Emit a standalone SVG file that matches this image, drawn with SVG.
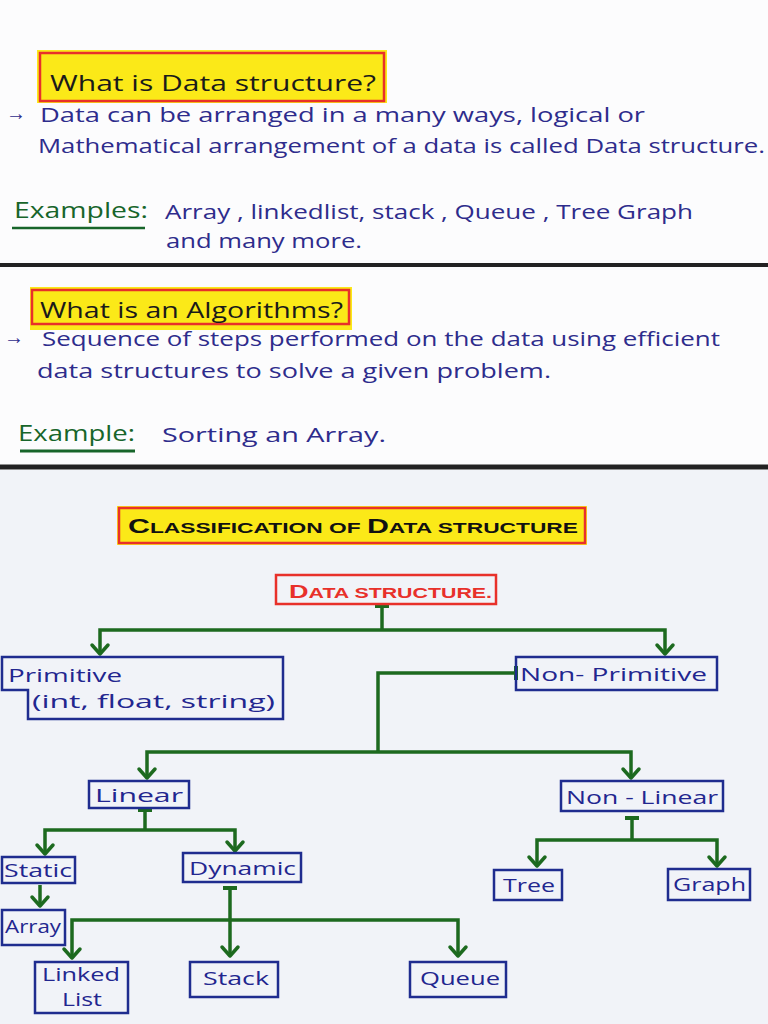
<svg xmlns="http://www.w3.org/2000/svg" width="768" height="1024" viewBox="0 0 768 1024">
<defs>
<style>
.ink{font-family:"Open Sans","Liberation Sans",sans-serif;fill:#2e2c8c;font-size:20px}
.head{font-family:"Open Sans","Liberation Sans",sans-serif;fill:#1a1a1a;font-size:22px}
.grn{font-family:"Open Sans","Liberation Sans",sans-serif;fill:#17652a;font-size:21px}
.caps{font-family:"Liberation Sans","Open Sans",sans-serif;font-weight:bold}
.box{fill:none;stroke:#1f2c8f;stroke-width:2.5}
.lbl{font-family:"Open Sans","Liberation Sans",sans-serif;fill:#22268f;font-size:19px}
.con{fill:none;stroke:#1d6a1f;stroke-width:3.5}
.arr{marker-end:url(#ah)}
.tee{marker-start:url(#tc)}
</style>
<marker id="ah" viewBox="-12 -12 24 24" refX="0" refY="0" markerWidth="24" markerHeight="24" markerUnits="userSpaceOnUse" orient="auto">
<path d="M-9,-8 L0,0 L-9,8" fill="none" stroke="#1d6a1f" stroke-width="3.5" stroke-linecap="round" stroke-linejoin="round"/>
</marker>
<marker id="tc" viewBox="-10 -10 20 20" refX="0" refY="0" markerWidth="20" markerHeight="20" markerUnits="userSpaceOnUse" orient="auto">
<path d="M0,-7 L0,7" fill="none" stroke="#1d6a1f" stroke-width="4"/>
</marker>
</defs>
<rect x="0" y="0" width="768" height="1024" fill="#fcfcfd"/>
<rect x="0" y="470" width="768" height="554" fill="#f1f3f8"/>
<line x1="0" y1="265" x2="768" y2="265" stroke="#222" stroke-width="4"/>
<line x1="0" y1="467" x2="768" y2="467" stroke="#222" stroke-width="5"/>

<g id="sec1">
<rect x="37" y="50" width="350" height="53" fill="#fbe918"/>
<rect x="40" y="53" width="344" height="48" fill="none" stroke="#e8302a" stroke-width="2.5"/>
<text class="head" x="50" y="91" textLength="326" lengthAdjust="spacingAndGlyphs">What is Data structure?</text>
<text class="ink" x="6" y="120" font-size="18">→</text>
<text class="ink" x="40" y="122" textLength="605" lengthAdjust="spacingAndGlyphs">Data can be arranged in a many ways, logical or</text>
<text class="ink" x="38" y="153" textLength="727" lengthAdjust="spacingAndGlyphs">Mathematical arrangement of a data is called Data structure.</text>
<text class="grn" x="14" y="218" textLength="134" lengthAdjust="spacingAndGlyphs">Examples:</text>
<line x1="12" y1="228" x2="145" y2="228" stroke="#17652a" stroke-width="2.5"/>
<text class="ink" x="165" y="219" textLength="528" lengthAdjust="spacingAndGlyphs">Array , linkedlist, stack , Queue , Tree Graph</text>
<text class="ink" x="166" y="248" textLength="196" lengthAdjust="spacingAndGlyphs">and many more.</text>
</g>

<g id="sec2">
<rect x="30" y="287" width="322" height="43" fill="#fbe918"/>
<rect x="32" y="290" width="317" height="34" fill="none" stroke="#e8302a" stroke-width="2.5"/>
<text class="head" x="40" y="318" textLength="303" lengthAdjust="spacingAndGlyphs">What is an Algorithms?</text>
<text class="ink" x="4" y="344" font-size="18">→</text>
<text class="ink" x="42" y="346" textLength="678" lengthAdjust="spacingAndGlyphs">Sequence of steps performed on the data using efficient</text>
<text class="ink" x="37" y="378" textLength="514" lengthAdjust="spacingAndGlyphs">data structures to solve a given problem.</text>
<text class="grn" x="18" y="441" textLength="117" lengthAdjust="spacingAndGlyphs">Example:</text>
<line x1="20" y1="451" x2="135" y2="451" stroke="#17652a" stroke-width="3"/>
<text class="ink" x="162" y="442" textLength="224" lengthAdjust="spacingAndGlyphs">Sorting an Array.</text>
</g>

<g id="title">
<rect x="117" y="506" width="470" height="39" fill="#fbe918"/>
<rect x="119" y="508" width="466" height="35" fill="none" stroke="#e8302a" stroke-width="2.5"/>
<text class="caps" x="128" y="533" fill="#111" font-size="15" textLength="450" lengthAdjust="spacingAndGlyphs"><tspan font-size="20">C</tspan>LASSIFICATION OF <tspan font-size="20">D</tspan>ATA STRUCTURE</text>
</g>

<g id="connectors">
<path class="con tee" d="M382,606 V630"/>
<path class="con arr" d="M382,630 H100 V654"/>
<path class="con arr" d="M382,630 H665 V654"/>
<path class="con tee" d="M516,673 H378 V752"/>
<path class="con arr" d="M378,752 H147 V778"/>
<path class="con arr" d="M378,752 H631 V778"/>
<path class="con tee" d="M145,810 V830"/>
<path class="con arr" d="M145,830 H45 V854"/>
<path class="con arr" d="M145,830 H235 V851"/>
<path class="con arr" d="M40,885 V906"/>
<path class="con tee arr" d="M230,888 V956"/>
<path class="con arr" d="M230,920 H72 V958"/>
<path class="con arr" d="M230,920 H458 V956"/>
<path class="con tee" d="M632,818 V840"/>
<path class="con arr" d="M632,840 H537 V866"/>
<path class="con arr" d="M632,840 H717 V866"/>
</g>

<g id="data-structure">
<rect x="276" y="575" width="220" height="29" fill="none" stroke="#e8302a" stroke-width="2.5"/>
<text class="caps" x="289" y="598" fill="#e8302a" font-size="15" textLength="203" lengthAdjust="spacingAndGlyphs"><tspan font-size="19">D</tspan>ATA STRUCTURE.</text>
</g>
<g id="primitive">
<path class="box" d="M2,657 H283 V719 H28 V690 H2 Z"/>
<text class="lbl" x="8" y="682" textLength="114" lengthAdjust="spacingAndGlyphs">Primitive</text>
<text class="lbl" x="32" y="708" textLength="243" lengthAdjust="spacingAndGlyphs">(int, float, string)</text>
</g>
<g id="non-primitive">
<rect class="box" x="516" y="657" width="201" height="33"/>
<text class="lbl" x="520" y="681" textLength="187" lengthAdjust="spacingAndGlyphs">Non- Primitive</text>
</g>
<g id="linear">
<rect class="box" x="89" y="781" width="100" height="27"/>
<text class="lbl" x="95" y="802" textLength="88" lengthAdjust="spacingAndGlyphs">Linear</text>
</g>
<g id="non-linear">
<rect class="box" x="561" y="781" width="162" height="30"/>
<text class="lbl" x="566" y="804" textLength="152" lengthAdjust="spacingAndGlyphs">Non - Linear</text>
</g>
<g id="static">
<rect class="box" x="2" y="857" width="73" height="26"/>
<text class="lbl" x="4" y="877" textLength="68" lengthAdjust="spacingAndGlyphs">Static</text>
</g>
<g id="dynamic">
<rect class="box" x="183" y="853" width="118" height="29"/>
<text class="lbl" x="189" y="875" textLength="107" lengthAdjust="spacingAndGlyphs">Dynamic</text>
</g>
<g id="array">
<rect class="box" x="2" y="910" width="63" height="35"/>
<text class="lbl" x="5" y="933" textLength="56" lengthAdjust="spacingAndGlyphs">Array</text>
</g>
<g id="tree">
<rect class="box" x="494" y="870" width="68" height="30"/>
<text class="lbl" x="503" y="892" textLength="52" lengthAdjust="spacingAndGlyphs">Tree</text>
</g>
<g id="graph">
<rect class="box" x="668" y="869" width="82" height="31"/>
<text class="lbl" x="673" y="891" textLength="73" lengthAdjust="spacingAndGlyphs">Graph</text>
</g>
<g id="linked-list">
<rect class="box" x="35" y="962" width="93" height="51"/>
<text class="lbl" x="42" y="981" font-size="18" textLength="78" lengthAdjust="spacingAndGlyphs">Linked</text>
<text class="lbl" x="62" y="1006" font-size="18" textLength="40" lengthAdjust="spacingAndGlyphs">List</text>
</g>
<g id="stack">
<rect class="box" x="190" y="962" width="88" height="35"/>
<text class="lbl" x="203" y="985" textLength="66" lengthAdjust="spacingAndGlyphs">Stack</text>
</g>
<g id="queue">
<rect class="box" x="410" y="962" width="96" height="35"/>
<text class="lbl" x="420" y="985" textLength="80" lengthAdjust="spacingAndGlyphs">Queue</text>
</g>
</svg>
